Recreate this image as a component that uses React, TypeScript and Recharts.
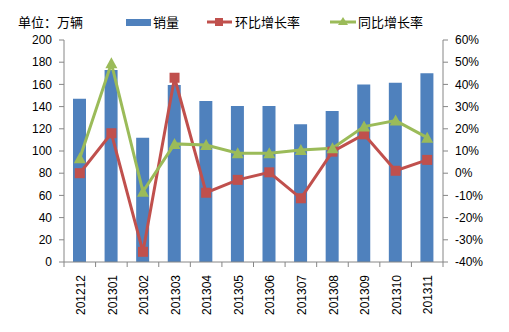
import {
  ComposedChart,
  Bar,
  Line,
  XAxis,
  YAxis,
} from 'recharts';

const months = [
  '201212', '201301', '201302', '201303', '201304', '201305',
  '201306', '201307', '201308', '201309', '201310', '201311',
];
const sales = [147, 173, 112, 159.5, 145, 140.5, 140.5, 124, 136, 160, 161.5, 170];
const momGrowth = [0.0, 0.18, -0.354, 0.43, -0.088, -0.03, 0.004, -0.113, 0.097, 0.175, 0.011, 0.06];
const yoyGrowth = [0.067, 0.495, -0.083, 0.132, 0.127, 0.09, 0.09, 0.105, 0.112, 0.21, 0.237, 0.16];
const leftTicks = [0, 20, 40, 60, 80, 100, 120, 140, 160, 180, 200];
const rightTicks = [-0.4, -0.3, -0.2, -0.1, 0, 0.1, 0.2, 0.3, 0.4, 0.5, 0.6];

const data = months.map((m, i) => ({
  month: m,
  sales: sales[i],
  mom: momGrowth[i],
  yoy: yoyGrowth[i],
}));

const BLUE = '#4F81BD';
const RED = '#C0504D';
const GREEN = '#9BBB59';
const AXIS = '#868686';
const FONT = '"Liberation Sans", Arial, "Noto Sans CJK SC", sans-serif';
const CJK = '"Noto Sans CJK SC", sans-serif';

const WIDTH = 509;
const HEIGHT = 332;
const LEFT_W = 64;
const RIGHT_W = 66;
const BAND = (WIDTH - LEFT_W - RIGHT_W) / months.length;

function MonthTick(props: any) {
  const { x, y, payload, index } = props;
  const left = x - BAND / 2;
  return (
    <g>
      <line x1={left} y1={y} x2={left} y2={y + 5} stroke={AXIS} />
      {index === months.length - 1 && (
        <line x1={x + BAND / 2} y1={y} x2={x + BAND / 2} y2={y + 5} stroke={AXIS} />
      )}
      <text
        x={0}
        y={0}
        transform={`translate(${x + 1},${y + 13}) rotate(-90)`}
        textAnchor="end"
        dy="0.35em"
        fontSize={12}
        fontFamily={FONT}
        fill="#000"
      >
        {payload.value}
      </text>
    </g>
  );
}

function SquareDot(props: any) {
  const { cx, cy } = props;
  if (cx == null || cy == null) return null;
  return <rect x={cx - 5} y={cy - 5} width={10} height={10} fill={RED} />;
}

function TriangleDot(props: any) {
  const { cx, cy } = props;
  if (cx == null || cy == null) return null;
  return (
    <path
      d={`M${cx},${cy - 6} L${cx + 6},${cy + 5} L${cx - 6},${cy + 5} Z`}
      fill={GREEN}
    />
  );
}

function LegendRow() {
  const text = { fontFamily: CJK, fontSize: 13, color: '#000', position: 'absolute' as const, top: 13, lineHeight: '18px' };
  return (
    <>
      <span style={{ ...text, left: 18 }}>单位：万辆</span>
      <span style={{ position: 'absolute', left: 126, top: 19, width: 25, height: 7, background: BLUE }} />
      <span style={{ ...text, left: 153 }}>销量</span>
      <svg style={{ position: 'absolute', left: 206, top: 14 }} width={27} height={16}>
        <line x1={1} y1={8} x2={26} y2={8} stroke={RED} strokeWidth={3} />
        <rect x={9} y={4} width={8} height={8} fill={RED} />
      </svg>
      <span style={{ ...text, left: 235 }}>环比增长率</span>
      <svg style={{ position: 'absolute', left: 329, top: 14 }} width={28} height={16}>
        <line x1={1} y1={8} x2={27} y2={8} stroke={GREEN} strokeWidth={3} />
        <path d="M14,3 L19,11 L9,11 Z" fill={GREEN} />
      </svg>
      <span style={{ ...text, left: 358 }}>同比增长率</span>
    </>
  );
}

export default function App() {
  return (
    <div style={{ position: 'absolute', left: 0, top: 0, width: WIDTH, height: HEIGHT, background: '#fff' }}>
      <LegendRow />
      <ComposedChart
        width={WIDTH}
        height={HEIGHT}
        data={data}
        margin={{ top: 40, right: 0, left: 0, bottom: 0 }}
      >
        <XAxis
          dataKey="month"
          height={70}
          tickSize={0}
          tickMargin={0}
          tickLine={false}
          stroke={AXIS}
          interval={0}
          tick={<MonthTick />}
        />
        <YAxis
          yAxisId="left"
          width={LEFT_W}
          domain={[0, 200]}
          ticks={leftTicks}
          interval={0}
          stroke={AXIS}
          tickSize={5}
          tickMargin={7}
          tick={{ fontSize: 12, fontFamily: FONT, fill: '#000' }}
        />
        <YAxis
          yAxisId="right"
          orientation="right"
          width={RIGHT_W}
          domain={[-0.4, 0.6]}
          ticks={rightTicks}
          interval={0}
          stroke={AXIS}
          tickSize={5}
          tickMargin={7}
          tickFormatter={(v: number) => `${Math.round(v * 100)}%`}
          tick={{ fontSize: 12, fontFamily: FONT, fill: '#000' }}
        />
        <Bar yAxisId="left" dataKey="sales" fill={BLUE} barSize={13} isAnimationActive={false} />
        <Line
          yAxisId="right"
          dataKey="mom"
          stroke={RED}
          strokeWidth={3}
          dot={<SquareDot />}
          activeDot={false}
          isAnimationActive={false}
        />
        <Line
          yAxisId="right"
          dataKey="yoy"
          stroke={GREEN}
          strokeWidth={3}
          dot={<TriangleDot />}
          activeDot={false}
          isAnimationActive={false}
        />
      </ComposedChart>
    </div>
  );
}
